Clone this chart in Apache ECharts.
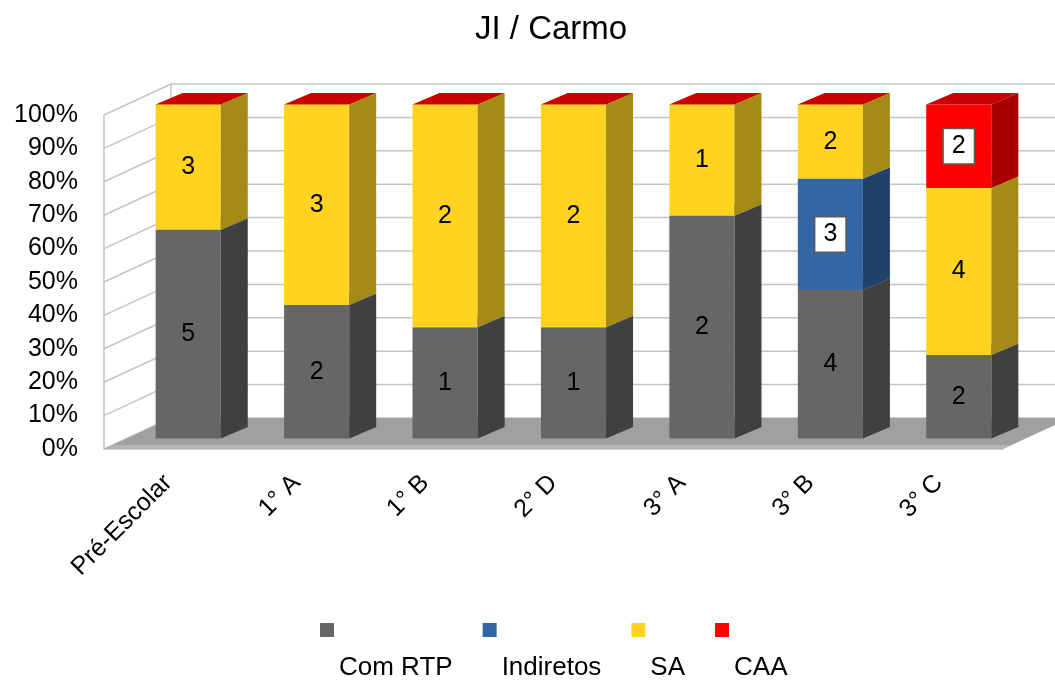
<!DOCTYPE html>
<html>
<head>
<meta charset="utf-8">
<title>JI / Carmo</title>
<script src="https://cdn.jsdelivr.net/npm/echarts@6/dist/echarts.min.js"></script>
</head>
<body style="margin:0;background:#fff">
<div id="main" style="width:1055px;height:682px;"></div>
<script>
// data
var categories = ['Pré-Escolar', '1° A', '1° B', '2° D', '3° A', '3° B', '3° C'];
var comRTP    = [5, 2, 1, 1, 2, 4, 2];
var indiretos = [0, 0, 0, 0, 0, 3, 0];
var sa        = [3, 3, 2, 2, 1, 2, 4];
var caa       = [0, 0, 0, 0, 0, 0, 2];
var yTicks    = [0, 10, 20, 30, 40, 50, 60, 70, 80, 90, 100];

// fake 3d: depth vectors in pixels
var WALL = [67, -31];
var SHIFT = [20, -10.5];
var DEPTH = [27, -11.5];
var FONT = 'Liberation Sans, Arial, sans-serif';

var defs = [
    { name: 'Com RTP',   values: comRTP,    front: '#666666', side: '#404040', top: '#7f7f7f', boxed: false },
    { name: 'Indiretos', values: indiretos, front: '#3465a4', side: '#22416a', top: '#4a7bbf', boxed: true },
    { name: 'SA',        values: sa,        front: '#ffd320', side: '#a58a15', top: '#ffe060', boxed: false },
    { name: 'CAA',       values: caa,       front: '#ff0000', side: '#a50000', top: '#c80000', boxed: true }
];

// 100% stack
var totals = categories.map(function (c, i) {
    return defs.reduce(function (s, d) { return s + d.values[i]; }, 0);
});
var base = categories.map(function () { return 0; });
defs.forEach(function (d) {
    d.data = categories.map(function (c, i) {
        var lo = base[i];
        var hi = lo + d.values[i] / totals[i] * 100;
        base[i] = hi;
        return [i, lo, hi, d.values[i]];
    });
});

function makeBar(d) {
    return function (params, api) {
        var cat = api.value(0), lo = api.value(1), hi = api.value(2), raw = api.value(3);
        var p0 = api.coord([cat, lo]);
        var p1 = api.coord([cat, hi]);
        var bw = api.size([1, 0])[0] * 0.507;
        var xl = p0[0] - bw / 2 + SHIFT[0], xr = xl + bw;
        var yb = p0[1] + SHIFT[1], yt = p1[1] + SHIFT[1];
        var dx = DEPTH[0], dy = DEPTH[1];
        var ch = [];
        if (raw > 0) {
            ch.push({ type: 'polygon', shape: { points: [[xl, yb], [xr, yb], [xr, yt], [xl, yt]] }, style: { fill: d.front } });
            ch.push({ type: 'polygon', shape: { points: [[xr, yb], [xr + dx, yb + dy], [xr + dx, yt + dy], [xr, yt]] }, style: { fill: d.side } });
        }
        ch.push({ type: 'polygon', shape: { points: [[xl, yt], [xr, yt], [xr + dx, yt + dy], [xl + dx, yt + dy]] }, style: { fill: d.top } });
        if (raw > 0) {
            var st = {
                text: String(raw), x: (xl + xr) / 2, y: (yb + yt) / 2,
                align: 'center', verticalAlign: 'middle',
                fontSize: 25, fontFamily: FONT, fill: '#000'
            };
            if (d.boxed) {
                st.backgroundColor = '#fff';
                st.borderColor = '#595959';
                st.borderWidth = 1.5;
                st.padding = [5, 8, 4, 8];
            }
            ch.push({ type: 'text', z2: 20, style: st });
        }
        return { type: 'group', children: ch };
    };
}

function wallItem(params, api) {
    var v = api.value(1);
    var cs = params.coordSys;
    var L = cs.x, R = cs.x + cs.width;
    var y = api.coord([0, v])[1];
    var ch = [{
        type: 'polyline',
        shape: { points: [[L, y], [L + WALL[0], y + WALL[1]], [R + WALL[0], y + WALL[1]]] },
        style: { stroke: '#c4c4c4', lineWidth: 1.5, fill: null }
    }];
    if (v === 0) {
        var yTop = api.coord([0, yTicks[yTicks.length - 1]])[1];
        ch.push({ type: 'line', shape: { x1: L + WALL[0], y1: y + WALL[1], x2: L + WALL[0], y2: yTop + WALL[1] },
                  style: { stroke: '#c4c4c4', lineWidth: 1.5 } });
        ch.push({ type: 'polygon', z2: 10,
                  shape: { points: [[L, y], [R, y], [R + WALL[0], y + WALL[1]], [L + WALL[0], y + WALL[1]]] },
                  style: { fill: '#a0a0a0' } });
        ch.push({ type: 'polygon', z2: 11,
                  shape: { points: [[L, y], [R, y], [R + 8, y - 4], [L + 8, y - 4]] },
                  style: { fill: '#b4b4b4' } });
    }
    return { type: 'group', children: ch };
}

var series = [{
    type: 'custom',
    name: 'wall',
    silent: true,
    z: 1,
    renderItem: wallItem,
    data: yTicks.map(function (v) { return [0, v]; }),
    encode: { x: 0, y: 1 }
}];
defs.forEach(function (d, k) {
    series.push({
        type: 'custom',
        name: d.name,
        z: 2 + k,
        itemStyle: { color: d.front },
        renderItem: makeBar(d),
        data: d.data,
        encode: { x: 0, y: 2 }
    });
});

var myChart = echarts.init(document.getElementById('main'));
myChart.setOption({
    animation: false,
    textStyle: { fontFamily: FONT },
    title: {
        text: 'JI / Carmo',
        left: 470,
        top: 8,
        textStyle: { fontSize: 33, fontWeight: 'normal', color: '#000', fontFamily: FONT }
    },
    legend: {
        data: defs.map(function (d) { return d.name; }),
        left: 320,
        top: 573,
        padding: 0,
        itemGap: 30,
        itemWidth: 14,
        itemHeight: 14,
        icon: 'rect',
        // label sits below the square, as in the original
        formatter: function (name) { return '\n\n' + name; },
        textStyle: { fontSize: 26, lineHeight: 38, color: '#000', fontFamily: FONT }
    },
    grid: { left: 104, right: 52, top: 115, bottom: 233 },
    xAxis: {
        type: 'category',
        data: categories,
        axisLine: { lineStyle: { color: '#c4c4c4', width: 1.5 } },
        axisTick: { length: 6, lineStyle: { color: '#c4c4c4', width: 1.5 } },
        axisLabel: { rotate: 45, interval: 0, fontSize: 25, color: '#000', margin: 30 }
    },
    yAxis: {
        type: 'value',
        min: 0,
        max: 100,
        interval: 10,
        axisLine: { show: true, lineStyle: { color: '#c4c4c4', width: 1.5 } },
        axisTick: { show: false },
        splitLine: { show: false },
        axisLabel: { formatter: '{value}%', fontSize: 25, color: '#000', margin: 26 }
    },
    series: series
});
</script>
</body>
</html>
